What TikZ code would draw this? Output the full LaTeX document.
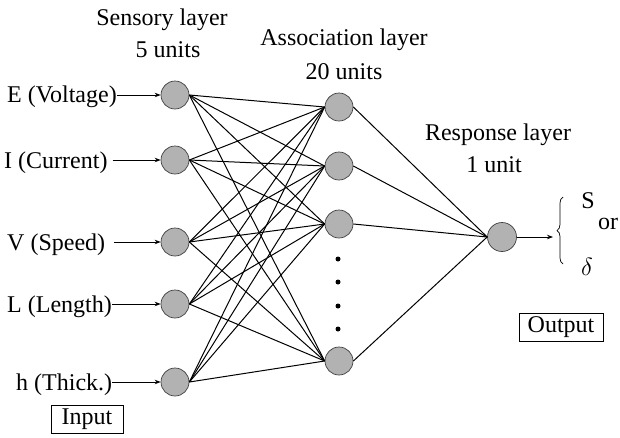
\documentclass[tikz,border=0pt]{standalone}
\usepackage{fontspec}
\setmainfont{Liberation Serif}
\usetikzlibrary{arrows.meta,decorations.pathreplacing}
\begin{document}
\begin{tikzpicture}[x=1pt,y=-1pt,
  unit/.style={circle,draw=black!75,fill=black!30,line width=0.7pt,minimum size=28pt,inner sep=0pt},
  txt/.style={inner sep=0pt,font=\fontsize{24}{29}\selectfont},
  conn/.style={line width=1pt},
  inarrow/.style={line width=0.9pt,-{Stealth[length=6pt,width=4.5pt]}},
  dotn/.style={circle,fill=black,inner sep=0pt,minimum size=5pt},
  boxn/.style={draw,line width=0.6pt,inner sep=0pt,minimum height=28pt}]
\useasboundingbox (0,0) rectangle (620,437);
% headings
\node[txt,anchor=base] (h1) at (162,25) {Sensory layer};
\node[txt,anchor=base] (h2) at (168,57) {5 units};
\node[txt,anchor=base] (h3) at (344,45) {Association layer};
\node[txt,anchor=base] (h4) at (344,79) {20 units};
\node[txt,anchor=base] (h5) at (498,140) {Response layer};
\node[txt,anchor=base] (h6) at (494,172) {1 unit};
% sensory units
\node[unit] (s1) at (175,95) {};
\node[unit] (s2) at (175,160) {};
\node[unit] (s3) at (175,242) {};
\node[unit] (s4) at (175,304) {};
\node[unit] (s5) at (175,382) {};
% association units
\node[unit] (a1) at (339,107) {};
\node[unit] (a2) at (339,166) {};
\node[unit] (a3) at (339,224) {};
\node[unit] (a4) at (339,361) {};
\node[dotn] (d1) at (338,259) {};
\node[dotn] (d2) at (338,282) {};
\node[dotn] (d3) at (338,306) {};
\node[dotn] (d4) at (338,329) {};
% response unit
\node[unit,minimum size=29pt] (r) at (502,237) {};
% input labels
\node[txt,anchor=base west] (l1) at (7,102) {E (Voltage)};
\node[txt,anchor=base west] (l2) at (4,168) {I (Current)};
\node[txt,anchor=base west] (l3) at (7,250) {V (Speed)};
\node[txt,anchor=base west] (l4) at (7,312) {L (Length)};
\node[txt,anchor=base west] (l5) at (16,390) {h (Thick.)};
\draw[inarrow] (l1.east |- s1) -- (s1.west);
\draw[inarrow,shorten <=5pt] (l2.east |- s2) -- (s2.west);
\draw[inarrow,shorten <=9pt] (l3.east |- s3) -- (s3.west);
\draw[inarrow] (l4.east |- s4) -- (s4.west);
\draw[inarrow] (l5.east |- s5) -- (s5.west);
% connections sensory -> association
\foreach \i in {1,...,5}{
  \foreach \j in {1,...,4}{
    \draw[conn] (s\i.east) -- (a\j.west);
  }
}
% association -> response
\foreach \j in {1,...,4}{
  \draw[conn] (a\j.east) -- (r.west);
}
% output
\coordinate (bt) at (553,237);
\draw[inarrow] (r.east) -- (bt);
\coordinate (bb) at (563,264);
\coordinate (btop) at (563,197);
\draw[line width=0.7pt,decorate,decoration={brace,amplitude=6pt}] (bb) -- (btop);
\node[txt,anchor=base] (oS) at (588,208) {S};
\node[txt,anchor=base] (oor) at (608,229) {or};
\node[txt,anchor=base] (od) at (587,275) {$\delta$};
\node[boxn,minimum width=84pt,font=\fontsize{24}{29}\selectfont] (out) at (561,327) {Output};
\node[boxn,minimum width=72pt,font=\fontsize{24}{29}\selectfont] (inp) at (87,419.5) {Input};
\end{tikzpicture}
\end{document}
